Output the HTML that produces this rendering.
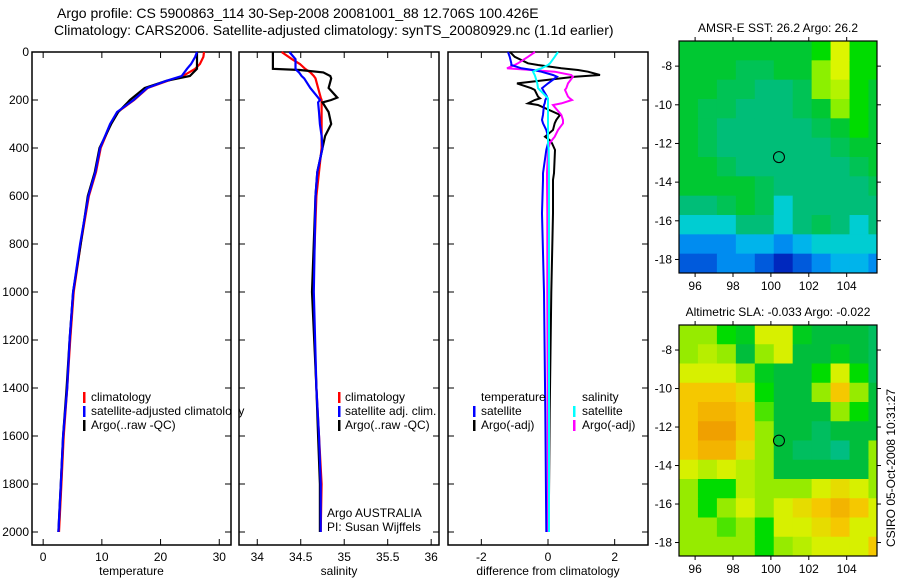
<!DOCTYPE html>
<html><head><meta charset="utf-8"><style>
body{margin:0;background:#fff;}
svg{display:block;font-family:"Liberation Sans",sans-serif;}
</style></head><body>
<svg id="fig" width="900" height="580" viewBox="0 0 900 580">
<text x="57" y="18" font-size="14">Argo profile: CS 5900863_114 30-Sep-2008 20081001_88 12.706S 100.426E</text>
<text x="54" y="35" font-size="14">Climatology: CARS2006. Satellite-adjusted climatology: synTS_20080929.nc (1.1d earlier)</text>
<g id="g"></g>
</svg>
<script>
// ---------- DATA ----------
const depthTicks=[0,200,400,600,800,1000,1200,1400,1600,1800,2000];
const tempTicks=[0,10,20,30];
const salTicks=[34,34.5,35,35.5,36];
const salTickLabels=["34","34.5","35","35.5","36"];
const diffTicks=[-2,0,2];
const tempDepths=[0,20,50,70,100,120,150,200,250,300,400,500,600,800,1000,1200,1400,1600,1800,2000];
const tempClim=[27.4,27.3,26.7,25.9,23.8,21.2,17.8,15.5,12.7,11.5,9.8,9.0,7.8,6.4,5.2,4.6,4.1,3.5,3.1,2.7];
const tempSat=[26.2,25.9,25.2,24.5,23.6,21.0,17.7,15.4,12.6,11.4,9.7,8.9,7.7,6.3,5.1,4.5,4.1,3.4,3.0,2.6];
const tempArgo=[26.2,26.2,26.2,26.2,25.0,21.0,17.3,14.8,12.8,11.6,9.6,8.8,7.6,6.4,5.1,4.5,4.0,3.4,3.0,2.6];
const salDepths=[0,30,50,70,75,85,100,110,150,190,200,210,250,300,350,400,500,600,1000,1400,1600,1800,2000];
const salClim=[34.28,34.40,34.49,34.55,34.57,34.61,34.65,34.67,34.70,34.73,34.74,34.74,34.74,34.74,34.74,34.74,34.71,34.68,34.64,34.68,34.71,34.74,34.73];
const salSat=[34.37,34.44,34.44,34.44,34.45,34.48,34.51,34.54,34.61,34.70,34.72,34.70,34.71,34.72,34.74,34.75,34.69,34.67,34.65,34.68,34.71,34.73,34.73];
const salArgo=[34.18,34.18,34.18,34.18,34.49,34.76,34.84,34.85,34.82,34.92,34.85,34.75,34.82,34.85,34.78,34.75,34.69,34.67,34.63,34.68,34.70,34.72,34.72];
const diffDepths=[0,20,47,54,68,75,82,96,103,131,151,158,186,193,200,214,221,262,283,297,325,353,367,380,408,505,533,672,1000,1500,2000];
const dTempSat=[-1.2,-1.15,-1.1,-1.1,-0.8,-0.45,-0.2,0.15,0.27,0.0,-0.18,-0.15,-0.03,-0.05,-0.08,-0.1,-0.12,-0.15,-0.18,-0.15,-0.05,0.0,0.0,0.0,-0.05,-0.15,-0.15,-0.18,-0.12,-0.08,-0.05];
const dTempArgo=[-1.14,-1.0,-0.6,-0.3,0.4,0.9,1.2,1.56,0.8,-0.93,-0.5,-0.4,-0.3,-0.24,-0.4,-0.6,-0.3,0.36,0.25,0.2,0.15,-0.09,0.05,0.12,0.21,0.18,0.15,0.15,0.1,0.05,0.02];
const dSalSat=[0.3,0.2,0.06,0.0,-0.2,-0.35,-0.45,-0.4,-0.38,-0.32,-0.3,-0.25,-0.05,0.0,0.0,0.0,0.0,0.0,0.0,0.0,0.0,0.0,0.0,0.0,0.02,0.03,0.03,0.03,0.03,0.03,0.03];
const dSalArgo=[-0.39,-0.6,-0.9,-1.0,-1.23,-0.5,0.2,0.7,0.75,0.6,0.55,0.51,0.6,0.65,0.72,0.4,0.15,0.4,0.45,0.45,0.3,0.2,0.12,0.05,0.0,-0.03,-0.03,-0.02,-0.02,-0.01,0.0];
const mapLonTicks=[96,98,100,102,104];
const mapLatTicks=[-8,-10,-12,-14,-16,-18];
const gridLon0=95.15, gridLat0=-6.7; // grid origin (1 degree cells)
const sstGrid=[
[6,6,6,6,6,6,6,7,9,7,7],
[6,6,6,5.5,5.5,6,6,8,9,7,7],
[6,6,5.5,5.5,5,5,5.5,8,8.5,7,6],
[6,5.5,5.5,5,5,5,5.5,6,8,7,6],
[6,5.5,5,5,5,5,5,5.5,6,7,6],
[6,5.5,5,5,5,5,5,5,5.5,6,6],
[6,6,5.5,5,5,5,5,5,5,5.5,6],
[6,6,6,6,5.5,5,5,5,5,5,5.5],
[5,5,5.5,6,5.5,4.5,5,5,5,5,5],
[4.5,4.5,4.5,5,5,4.5,5,5.5,5,4.5,5],
[3.5,3.5,3.5,4,4,3.5,4,4.5,4.5,4.5,4.5],
[3,3,3.5,3.5,3,2.5,3,3.5,4,4,3.5]];
const slaGrid=[
[7,7,6,5.5,8,8,5.5,5,5,5,4.5],
[7,7.5,7,5,7,8,5,5,5.5,5,4.5],
[8,8,8,7,5.5,5,5,6,8,6,4.5],
[9,9,9,8.5,6,5,5,7,9,7,5],
[9,9.5,9.5,9,6.5,5,5,5,7,6,5],
[9,10,10,9,7,5,5,4.5,5,5,5],
[9,9.5,9.5,8.5,7,5,4.5,4.5,4,5,7],
[8,7.5,8,7.5,7,5,5,5,5,5,7],
[7,6,6,7.5,7,7,7,8,8.5,8,7],
[7,6,7,8,7,8,8.5,9,9.5,9,8],
[7,7,6.5,7,6,8,8,8.5,9,8,8],
[7,7,7,7,6,7,7.5,8,8,8,9]];
const argoLon=100.426, argoLat=-12.706;

// ---------- DRAW ----------
const NS="http://www.w3.org/2000/svg";
const G=document.getElementById('g');
function mk(t,a,p){const e=document.createElementNS(NS,t);for(const k in a)e.setAttribute(k,a[k]);(p||G).appendChild(e);return e;}
const yD=d=>52+d*0.24;
function panel(name,x0,x1,vmin,vmax,ticks,labels,xlabel,showY){
  const sx=v=>x0+(v-vmin)/(vmax-vmin)*(x1-x0);
  const r=mk('rect',{x:x0,y:52,width:x1-x0,height:493,fill:'none',stroke:'#000','stroke-width':1.5});
  
  ticks.forEach((t,i)=>{const X=sx(t);
    mk('line',{x1:X,y1:52,x2:X,y2:58,stroke:'#000'});mk('line',{x1:X,y1:545,x2:X,y2:539,stroke:'#000'});
    const tx=mk('text',{x:X,y:561,'font-size':12,'text-anchor':'middle'});tx.textContent=labels[i];
    });
  depthTicks.forEach(d=>{const Y=yD(d);
    mk('line',{x1:x0,y1:Y,x2:x0+6,y2:Y,stroke:'#000'});mk('line',{x1:x1,y1:Y,x2:x1-6,y2:Y,stroke:'#000'});
    if(showY){const tx=mk('text',{x:x0-3,y:Y+4,'font-size':12,'text-anchor':'end'});tx.textContent=d;
      }});
  const xl=mk('text',{x:(x0+x1)/2,y:575,'font-size':12,'text-anchor':'middle'});xl.textContent=xlabel;
  
  return sx;
}
function line(sx,depths,vals,color,name,w){
  const pts=depths.map((d,i)=>sx(vals[i]).toFixed(1)+','+yD(d).toFixed(1)).join(' ');
  const p=mk('polyline',{points:pts,fill:'none',stroke:color,'stroke-width':w||2.2});
  
}
function txt(x,y,s,name,size,extra){const t=mk('text',Object.assign({x:x,y:y,'font-size':size||12},extra||{}));t.textContent=s;
  return t;}
function mark(x,y,c){mk('rect',{x:x,y:y-9,width:2.5,height:11,fill:c});}

const s1=panel('temperature-panel',32,231,-1.9,32,tempTicks,tempTicks.map(String),'temperature',true);
line(s1,tempDepths,tempClim,'#f00','temp-climatology-line');
line(s1,tempDepths,tempArgo,'#000','temp-argo-line');
line(s1,tempDepths,tempSat,'#00f','temp-satellite-line');
mark(83,401,'#f00');txt(91,401,'climatology','legend-climatology');
mark(83,415,'#00f');txt(91,415,'satellite-adjusted climatology','legend-satellite-adjusted');
mark(83,429,'#000');txt(91,429,'Argo(..raw -QC)','legend-argo');
// clip overflow of legend into next panel gap
mk('rect',{x:232,y:405,width:6,height:14,fill:'#fff'});

const s2=panel('salinity-panel',239,439,33.79,36.09,salTicks,salTickLabels,'salinity',false);
line(s2,salDepths,salClim,'#f00','sal-climatology-line');
line(s2,salDepths,salArgo,'#000','sal-argo-line');
line(s2,salDepths,salSat,'#00f','sal-satellite-line');
mark(338,401,'#f00');txt(345,401,'climatology','sal-legend-climatology');
mark(338,415,'#00f');txt(345,415,'satellite adj. clim.','sal-legend-satellite');
mark(338,429,'#000');txt(345,429,'Argo(..raw -QC)','sal-legend-argo');
txt(327,517,'Argo AUSTRALIA','agency-label');
txt(327,531,'PI: Susan Wijffels','pi-label');

const s3=panel('difference-panel',448,648,-3,3,diffTicks,diffTicks.map(String),'difference from climatology',false);
line(s3,diffDepths,dTempArgo,'#000','diff-temp-argo-line',2);
line(s3,diffDepths,dSalArgo,'#f0f','diff-sal-argo-line',2);
line(s3,diffDepths,dTempSat,'#00f','diff-temp-satellite-line',2);
line(s3,diffDepths,dSalSat,'#0ff','diff-sal-satellite-line',2);
txt(481,401,'temperature','diff-legend-temp-header');txt(582,401,'salinity','diff-legend-sal-header');
mark(473,415,'#00f');txt(481,415,'satellite','diff-legend-temp-satellite');
mark(473,429,'#000');txt(481,429,'Argo(-adj)','diff-legend-temp-argo');
mark(573,415,'#0ff');txt(582,415,'satellite','diff-legend-sal-satellite');
mark(573,429,'#f0f');txt(582,429,'Argo(-adj)','diff-legend-sal-argo');

// colormaps
const sstStops=[[2.5,[0,40,190]],[3,[0,90,220]],[3.5,[0,140,240]],[4,[0,180,235]],[4.5,[0,205,210]],[5,[0,190,120]],[6,[0,200,50]],[7,[0,220,0]],[8,[140,240,0]],[9,[220,245,0]]];
const slaStops=[[4,[0,190,130]],[5,[0,190,60]],[6,[0,220,0]],[7,[150,235,0]],[8,[215,240,0]],[9,[245,200,0]],[10,[240,160,0]]];
function cmap(v,st){if(v<=st[0][0])return st[0][1];for(let i=1;i<st.length;i++){if(v<=st[i][0]){const a=st[i-1],b=st[i],f=(v-a[0])/(b[0]-a[0]);
  return a[1].map((c,k)=>Math.round(c+(b[1][k]-c)*f));}}return st[st.length-1][1];}
function mapPanel(name,top,bot,grid,stops,title){
  const x0=679,x1=877,lonA=95.15,lonB=105.6,latT=-6.7,latB=-18.7;
  const sx=l=>x0+(l-lonA)/(lonB-lonA)*(x1-x0), sy=la=>top+(latT-la)/(latT-latB)*(bot-top);
  const mg=mk('g',{});
  grid.forEach((row,r)=>row.forEach((v,c)=>{
    const X=sx(gridLon0+c),Y=sy(gridLat0-r),X2=sx(gridLon0+c+1),Y2=sy(gridLat0-r-1);
    const col=cmap(v,stops);
    const cell=mk('rect',{x:X,y:Y,width:Math.min(X2,x1)-X+0.5,height:Math.min(Y2,bot)-Y+0.5,fill:'rgb('+col.join(',')+')'},mg);
    
  }));
  const fr=mk('rect',{x:x0,y:top,width:x1-x0,height:bot-top,fill:'none',stroke:'#000','stroke-width':1.2});
  
  mapLonTicks.forEach(l=>{const X=sx(l);mk('line',{x1:X,y1:top,x2:X,y2:top-4,stroke:'#000'});mk('line',{x1:X,y1:bot,x2:X,y2:bot+4,stroke:'#000'});
    txt(X,bot+17,String(l),name+'-lon-tick-label',12,{'text-anchor':'middle'});});
  mapLatTicks.forEach(l=>{const Y=sy(l);mk('line',{x1:x0,y1:Y,x2:x0-4,y2:Y,stroke:'#000'});mk('line',{x1:x1,y1:Y,x2:x1+4,y2:Y,stroke:'#000'});
    txt(x0-7,Y+4,String(l),name+'-lat-tick-label',12,{'text-anchor':'end'});});
  const c=mk('circle',{cx:sx(argoLon),cy:sy(argoLat),r:5.5,fill:'none',stroke:'#000','stroke-width':1});
  
  txt((x0+x1)/2,top-9,title,name+'-title',12,{'text-anchor':'middle'});
}
mapPanel('sst-map',41,273,sstGrid,sstStops,'AMSR-E SST: 26.2 Argo: 26.2');
mapPanel('sla-map',325,556,slaGrid,slaStops,'Altimetric SLA: -0.033 Argo: -0.022');
txt(0,0,'CSIRO 05-Oct-2008 10:31:27','timestamp',12,{transform:'translate(895,547) rotate(-90)'});
</script>
</body></html>
